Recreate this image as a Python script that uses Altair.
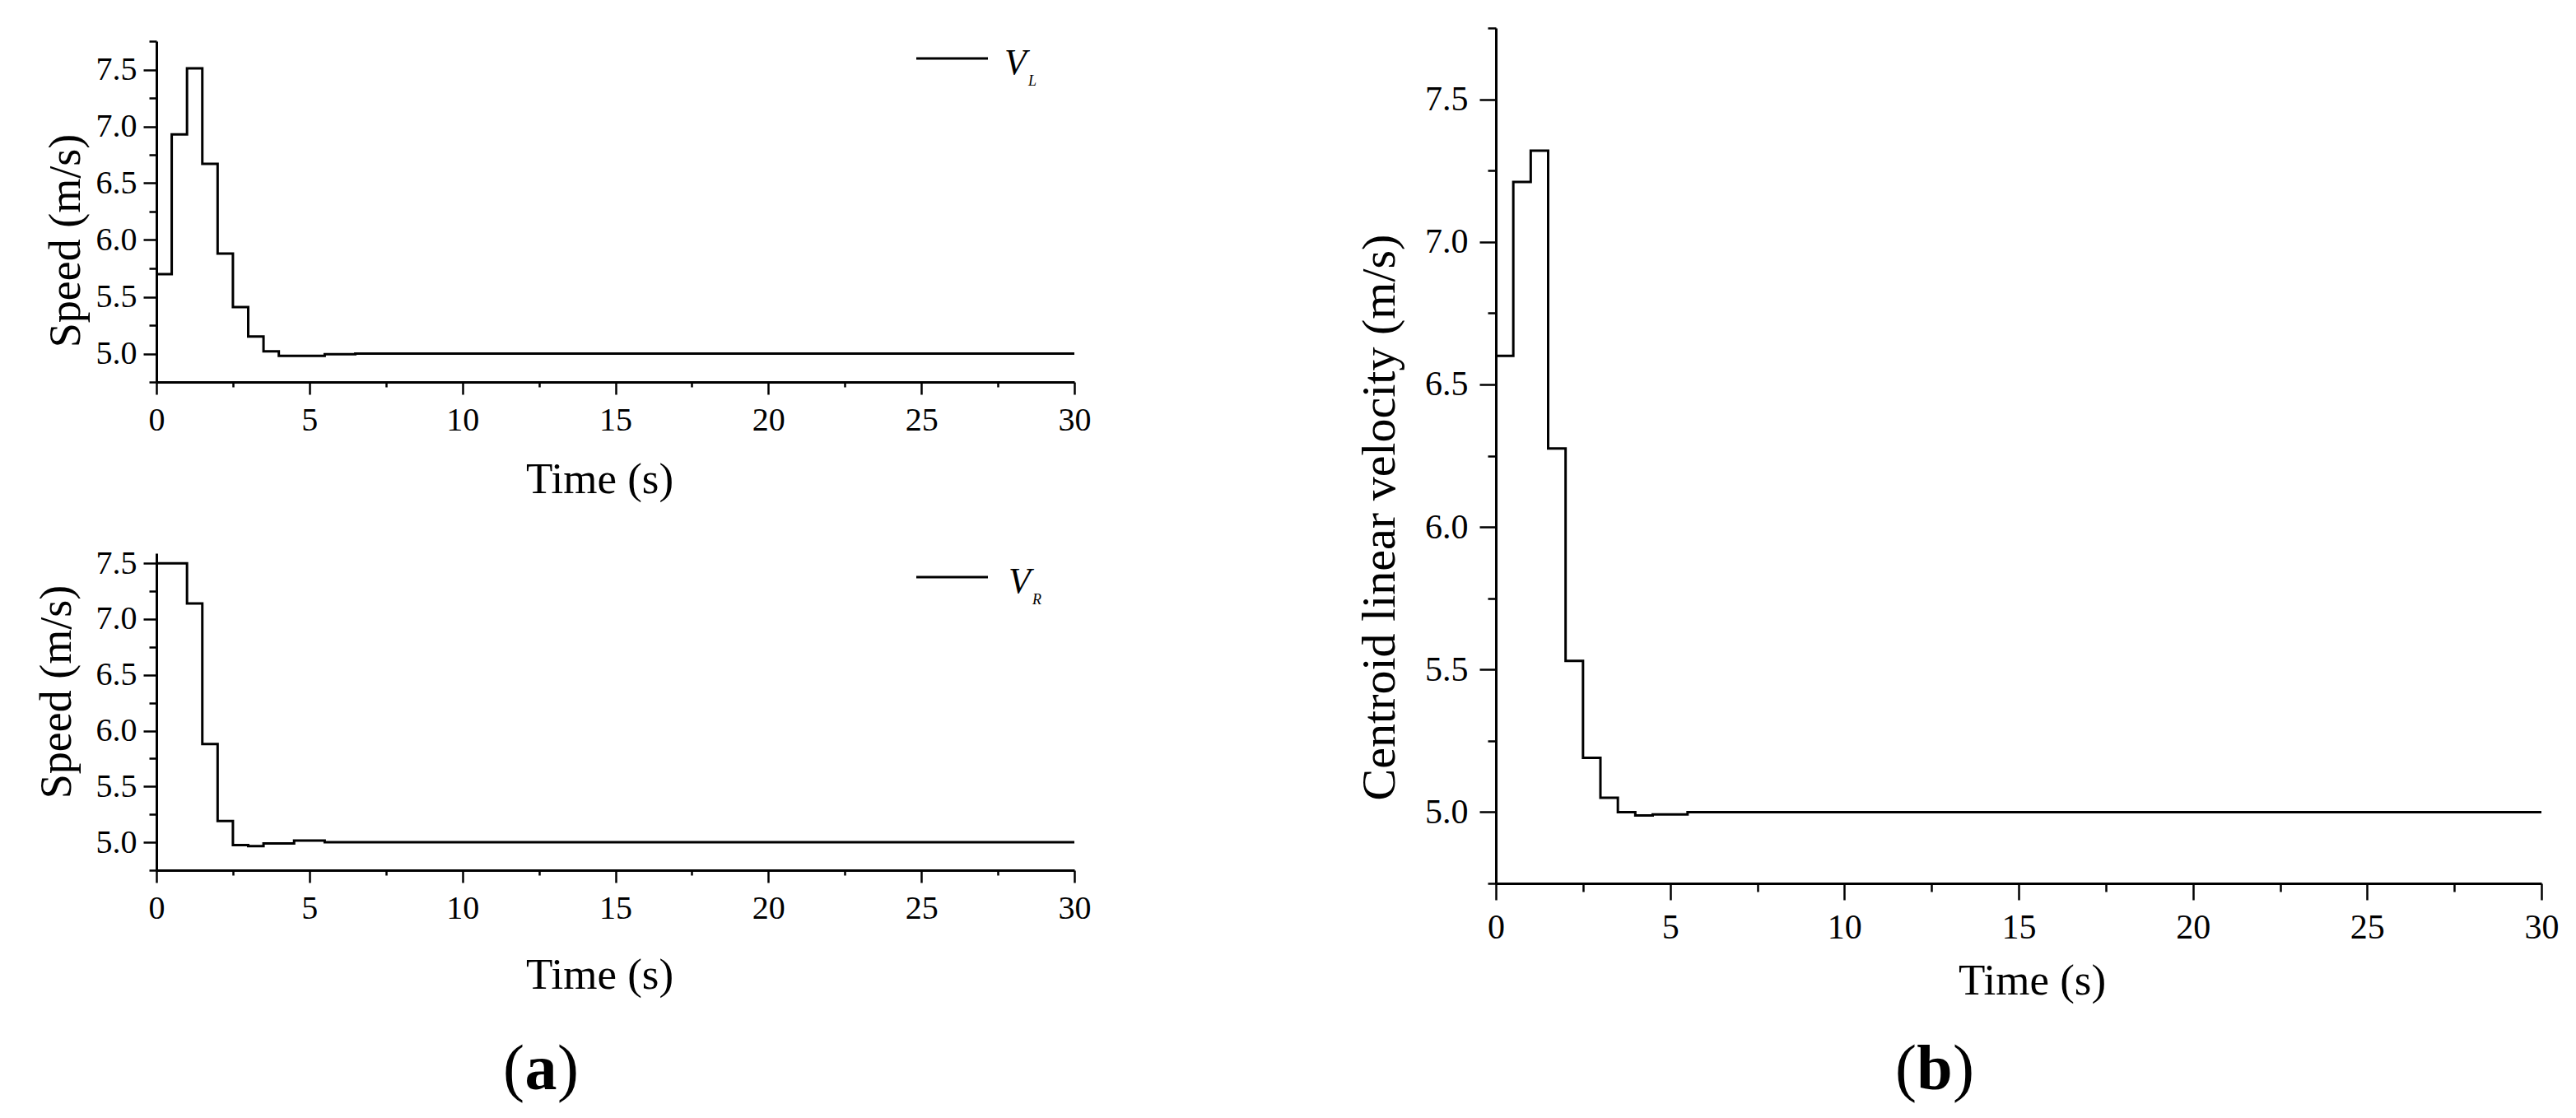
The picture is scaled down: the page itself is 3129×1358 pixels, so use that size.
import altair as alt
import pandas as pd

FONT = "Liberation Serif"

# ---------------- data ----------------
# (a) upper panel: left wheel speed V_L (step signal, 0.5 s sample)
t_L = [0, 0.5, 1.0, 1.5, 2.0, 2.5, 3.0, 3.5, 4.0, 5.5, 6.5, 30]
v_L = [5.70, 6.93, 7.51, 6.67, 5.88, 5.41, 5.15, 5.02, 4.98, 4.995, 5.0, 5.0]

# (a) lower panel: right wheel speed V_R
t_R = [0, 1.0, 1.5, 2.0, 2.5, 3.0, 3.5, 4.5, 5.5, 30]
v_R = [7.50, 7.14, 5.88, 5.19, 4.975, 4.965, 4.99, 5.015, 5.0, 5.0]

# (b) centroid linear velocity
t_C = [0, 0.5, 1.0, 1.5, 2.0, 2.5, 3.0, 3.5, 4.0, 4.5, 5.5, 30]
v_C = [6.60, 7.21, 7.32, 6.275, 5.53, 5.19, 5.05, 5.00, 4.988, 4.992, 5.0, 5.0]

x_major = [0, 5, 10, 15, 20, 25, 30]
x_minor = [2.5, 7.5, 12.5, 17.5, 22.5, 27.5]
y_major = [5.0, 5.5, 6.0, 6.5, 7.0, 7.5]
y_minor_full = [4.75, 5.25, 5.75, 6.25, 6.75, 7.25, 7.75]
y_minor_low = [4.75, 5.25, 5.75, 6.25, 6.75, 7.25]


def txt(text, x, y, size, style="normal", weight="normal", align="left"):
    return alt.Chart(pd.DataFrame({"s": [text]})).mark_text(
        font=FONT, fontSize=size, fontStyle=style, fontWeight=weight,
        align=align, baseline="alphabetic", color="black"
    ).encode(x=alt.value(x), y=alt.value(y), text="s:N")


def caption(letter, cx, y, half):
    # "(" and ")" in regular weight, the letter in bold
    return [
        txt("(", cx - half, y, 78, align="right"),
        txt(letter, cx, y, 78, weight="bold", align="center"),
        txt(")", cx + half, y, 78, align="left"),
    ]


def hrule(x1, x2, y, color="black", width=3):
    return alt.Chart(pd.DataFrame({"a": [0]})).mark_rule(
        color=color, strokeWidth=width
    ).encode(x=alt.value(x1), x2=alt.value(x2), y=alt.value(y))


def panel(t, v, w, h, ydom, y_minor, ytitle, ytx, yty, xtx, xty,
          xtick, xmin, ytick, ymin, lab_fs, ylabpad, xlabpad, ytfs, extras):
    df = pd.DataFrame({"t": t, "v": v})
    xs = alt.Scale(domain=[0, 30], nice=False, zero=False)
    ys = alt.Scale(domain=ydom, nice=False, zero=False)
    main = alt.Chart(df).mark_line(
        interpolate="step-after", color="black", strokeWidth=3
    ).encode(
        x=alt.X("t:Q", scale=xs, axis=alt.Axis(
            values=x_major, orient="bottom", grid=False, format="d",
            tickSize=xtick, tickWidth=2.5, domainWidth=3,
            labelFontSize=lab_fs, labelPadding=xlabpad, labelFlush=False,
            labelOverlap=False, title="Time (s)", titleFontSize=53,
            titleFontWeight="normal", titleX=xtx, titleY=xty,
            titleBaseline="alphabetic", titleAlign="center")),
        y=alt.Y("v:Q", scale=ys, axis=alt.Axis(
            values=y_major, orient="left", grid=False, format=".1f",
            tickSize=ytick, tickWidth=2.5, domainWidth=3,
            labelFontSize=lab_fs, labelPadding=ylabpad, labelOverlap=False,
            title=ytitle, titleFontSize=ytfs, titleFontWeight="normal",
            titleAngle=270, titleX=ytx, titleY=yty,
            titleBaseline="middle", titleAlign="center")),
    )
    minor = alt.Chart(df).mark_line(opacity=0).encode(
        x=alt.X("t:Q", scale=xs, title=None, axis=alt.Axis(
            values=x_minor, orient="bottom", grid=False, labels=False,
            domain=False, tickSize=xmin, tickWidth=2.5)),
        y=alt.Y("v:Q", scale=ys, title=None, axis=alt.Axis(
            values=y_minor, orient="left", grid=False, labels=False,
            domain=False, tickSize=ymin, tickWidth=2.5)),
    )
    return alt.layer(main, minor, *extras).resolve_axis(
        x="independent", y="independent"
    ).properties(width=w, height=h)


top = panel(
    t_L, v_L, 1115, 414, [4.75, 7.75], y_minor_full, "Speed (m/s)",
    -110, 242, 538, 134, 15, 6, 16, 9, 40, 8, 11, 54,
    [
        hrule(-181, 1215, -25, color="white", width=1),
        hrule(923, 1010, 21, width=3),
        txt("V", 1030, 40, 44, style="italic"),
        txt("L", 1059, 54, 18, style="italic"),
    ],
)

bottom = panel(
    t_R, v_R, 1115, 385, [4.75, 7.59], y_minor_low, "Speed (m/s)",
    -121, 168, 538, 143, 15, 6, 16, 9, 40, 8, 11, 54,
    [
        hrule(923, 1010, 29, width=3),
        txt("V", 1035, 48, 44, style="italic"),
        txt("R", 1064, 62, 18, style="italic"),
    ] + caption("a", 467, 651, 20),
)

right = panel(
    t_C, v_C, 1270, 1039, [4.75, 7.75], y_minor_full,
    "Centroid linear velocity (m/s)",
    -141, 594, 651, 134, 20, 10, 20, 10, 42, 14, 13, 58,
    [
        hrule(-300, 0, -25, color="white", width=1),
    ] + caption("b", 533, 1289, 22),
)

# invisible 16 px spacer so that panel (a) starts lower than panel (b)
spacer = alt.Chart(pd.DataFrame({"a": [0]})).mark_point(opacity=0).encode(
    x=alt.value(0), y=alt.value(0)
).properties(width=1, height=16)

left_inner = alt.vconcat(top, bottom, spacing=208, bounds="flush")
left = alt.vconcat(spacer, left_inner, spacing=0, bounds="flush")

chart = alt.hconcat(left, right, spacing=110).properties(
    padding={"left": 0, "top": 0, "right": 10, "bottom": 10},
    background="white",
).configure_view(
    stroke="transparent"
).configure_axis(
    labelFont=FONT, titleFont=FONT, labelColor="black", titleColor="black",
    domainColor="black", tickColor="black"
)

chart.save("out.html", embed_options={"renderer": "svg", "actions": False})
